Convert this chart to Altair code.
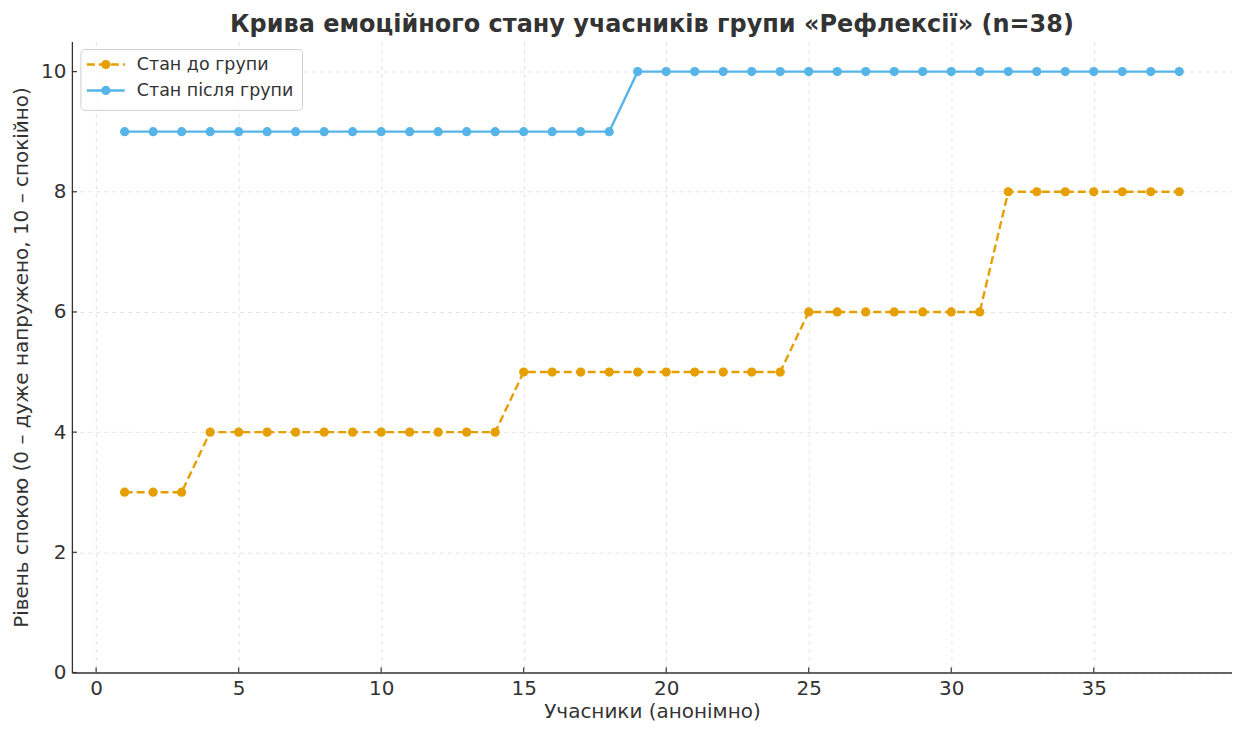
import altair as alt
import pandas as pd

participants = list(range(1, 39))
before = [3]*3 + [4]*11 + [5]*10 + [6]*7 + [8]*7
after = [9]*18 + [10]*20
series_names = ["Стан до групи", "Стан після групи"]
series_colors = ["#E69F00", "#56B4E9"]
series_dash = [[8, 4], [1, 0]]

rows = []
for p, b, a in zip(participants, before, after):
    rows.append({"n": p, "v": b, "s": series_names[0]})
    rows.append({"n": p, "v": a, "s": series_names[1]})
df = pd.DataFrame(rows)

W, H = 1162, 632
FONT = "DejaVu Sans"

xs = alt.Scale(domain=[-0.85, 39.85], nice=False, zero=False)
ys = alt.Scale(domain=[0, 10.5], nice=False)
cs = alt.Scale(domain=series_names, range=series_colors)
ds = alt.Scale(domain=series_names, range=series_dash)

x_axis = alt.Axis(values=[0, 5, 10, 15, 20, 25, 30, 35], title="Учасники (анонімно)",
                  grid=True, gridDash=[4, 4], gridColor="#e3e3e3", ticks=False,
                  labelPadding=6, titlePadding=3, format="d")
y_axis = alt.Axis(values=[0, 2, 4, 6, 8, 10], title="Рівень спокою (0 – дуже напружено, 10 – спокійно)",
                  grid=True, gridDash=[4, 4], gridColor="#e3e3e3", ticks=False,
                  labelPadding=6, titlePadding=9, format="d")

base = alt.Chart(df)
lines = base.mark_line(strokeWidth=2.4).encode(
    x=alt.X("n:Q", scale=xs, axis=x_axis),
    y=alt.Y("v:Q", scale=ys, axis=y_axis),
    color=alt.Color("s:N", scale=cs, legend=None),
    strokeDash=alt.StrokeDash("s:N", scale=ds, legend=None),
    detail="s:N",
)
points = base.mark_circle(size=85, opacity=1).encode(
    x=alt.X("n:Q", scale=xs),
    y=alt.Y("v:Q", scale=ys),
    color=alt.Color("s:N", scale=cs, legend=None),
)

# inward tick marks
xt = pd.DataFrame({"t": [0, 5, 10, 15, 20, 25, 30, 35]})
yt = pd.DataFrame({"t": [0, 2, 4, 6, 8, 10]})
xticks = alt.Chart(xt).mark_rule(color="#333", strokeWidth=1.2).encode(
    x=alt.X("t:Q", scale=xs), y=alt.value(H), y2=alt.value(H - 5))
yticks = alt.Chart(yt).mark_rule(color="#333", strokeWidth=1.2).encode(
    y=alt.Y("t:Q", scale=ys), x=alt.value(0), x2=alt.value(5))

# legend
leg = pd.DataFrame({"s": series_names, "row": [0, 1]})
legbox = alt.Chart(pd.DataFrame({"a": [0]})).mark_rect(
    fill="white", stroke="#cccccc", strokeWidth=1, cornerRadius=4, opacity=0.9
).encode(x=alt.value(9), x2=alt.value(231), y=alt.value(8), y2=alt.value(69))
legrows = []
for i, nm in enumerate(series_names):
    yy = 23 + 26 * i
    legrows.append(
        alt.Chart(leg[leg.row == i]).mark_rule(strokeWidth=2.4, strokeDash=series_dash[i]).encode(
            x=alt.value(15), x2=alt.value(53), y=alt.value(yy),
            color=alt.Color("s:N", scale=cs, legend=None)))
    legrows.append(
        alt.Chart(leg[leg.row == i]).mark_circle(size=85, opacity=1).encode(
            x=alt.value(34), y=alt.value(yy),
            color=alt.Color("s:N", scale=cs, legend=None)))
    legrows.append(
        alt.Chart(leg[leg.row == i]).mark_text(align="left", baseline="middle", fontSize=17.5,
                                                font=FONT, color="#333").encode(
            x=alt.value(65), y=alt.value(yy + 1), text="s:N"))

chart = alt.layer(lines, points, xticks, yticks, legbox, *legrows).properties(
    width=W, height=H,
    title=alt.Title("Крива емоційного стану учасників групи «Рефлексії» (n=38)",
                    font=FONT, fontSize=24, fontWeight="bold", color="#333", offset=5),
    autosize=alt.AutoSizeParams(type="none"),
    padding={"left": 64, "top": 33, "right": 0, "bottom": 50},
).configure_view(stroke=None).configure_axis(
    labelFont=FONT, titleFont=FONT, labelFontSize=20, titleFontSize=20,
    labelColor="#333", titleColor="#333", titleFontWeight="normal",
    domainColor="#333", domainWidth=1.3,
)

chart.save("out.html", embed_options={"renderer": "svg", "actions": False})
